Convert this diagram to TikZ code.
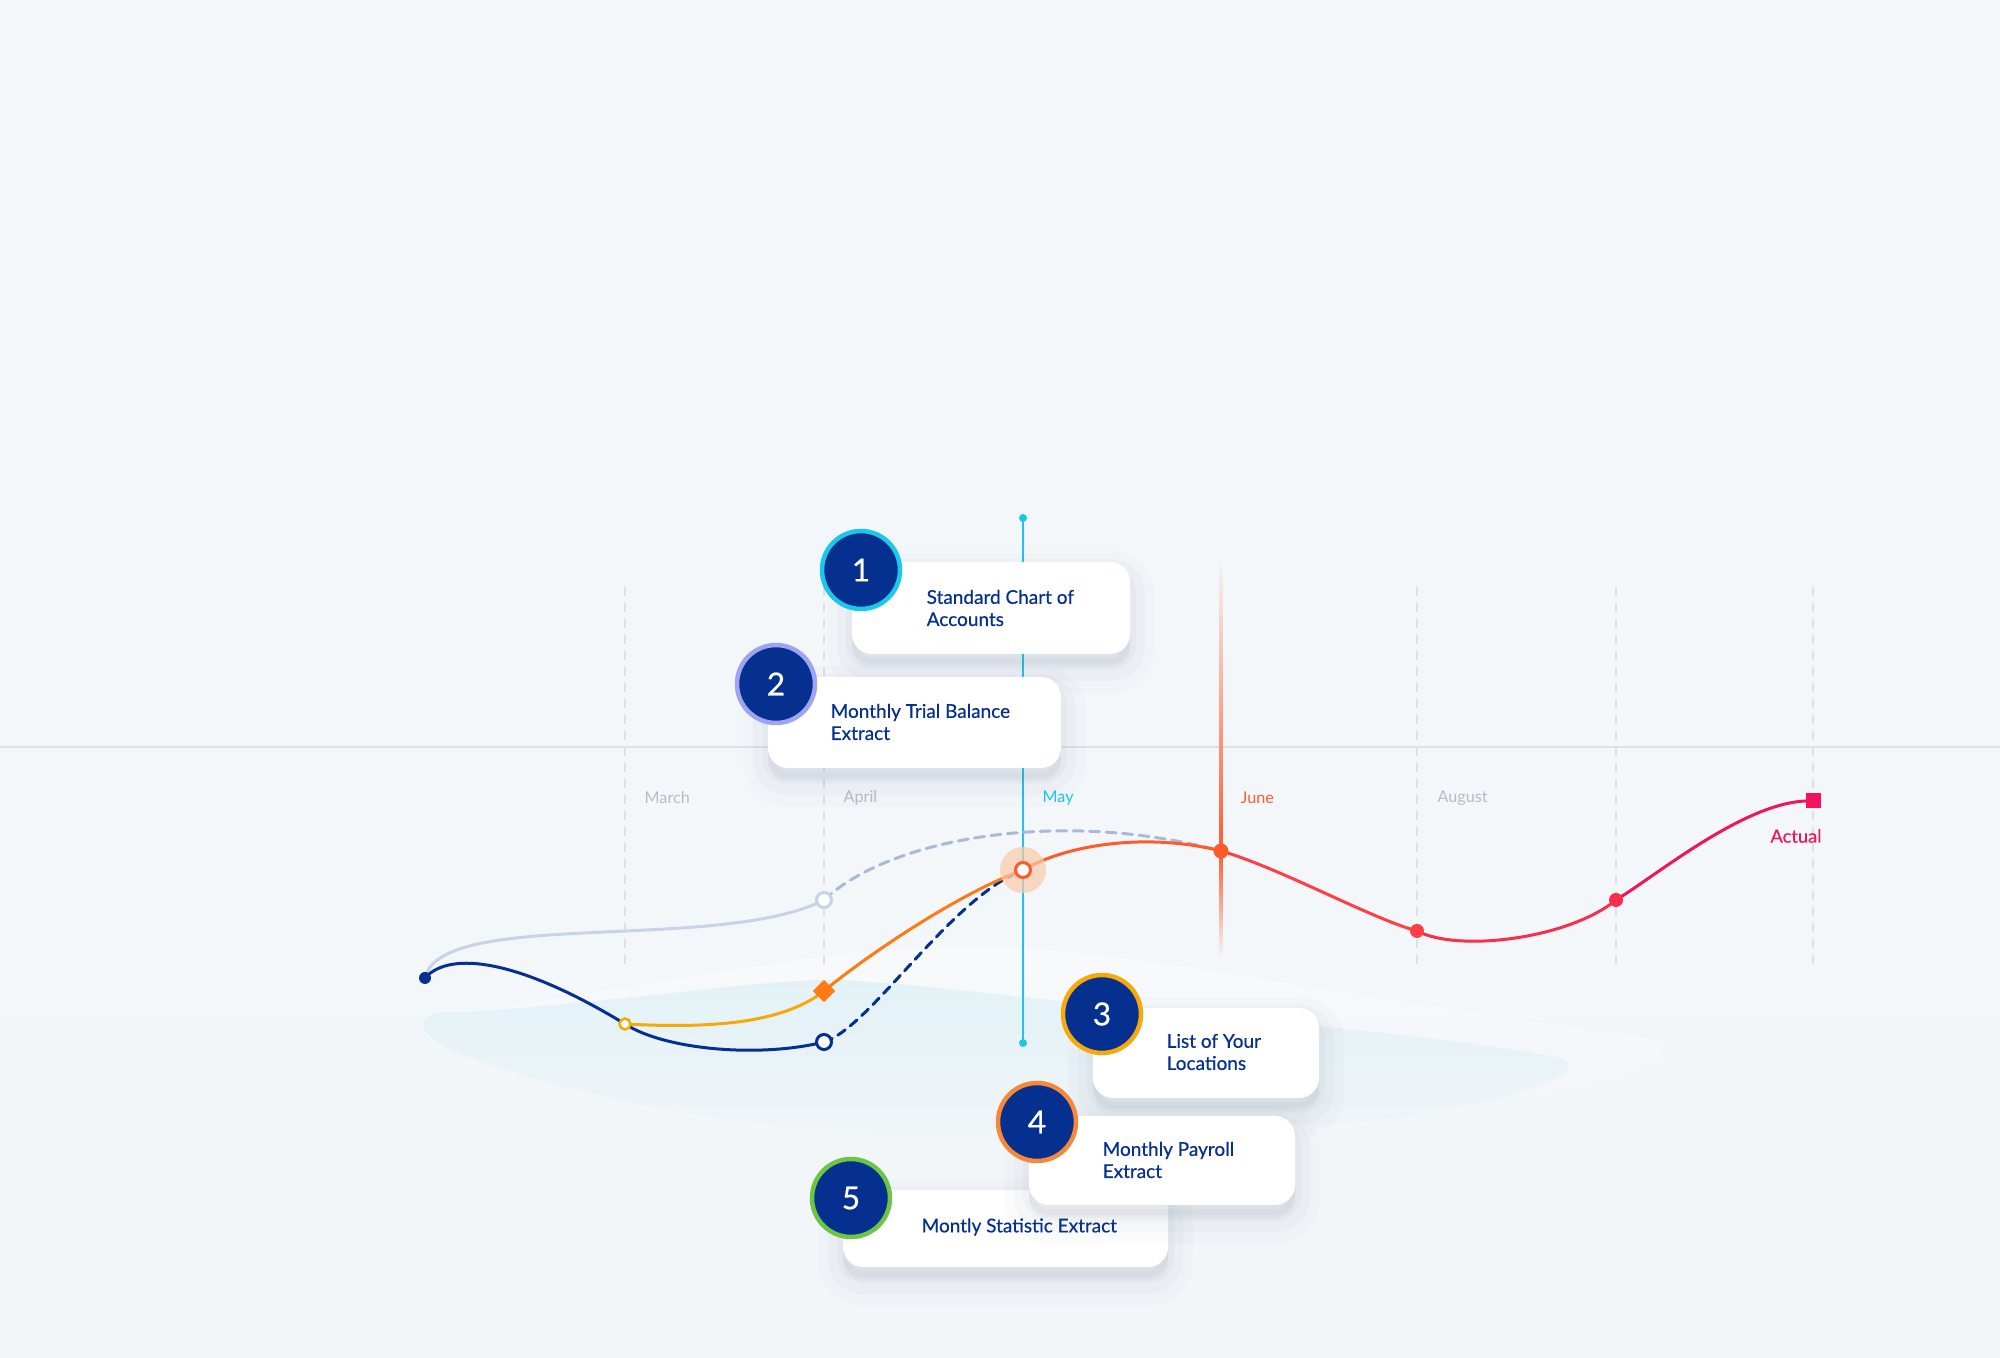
\documentclass[tikz,border=0pt]{standalone}
\usepackage{fontspec}
\setmainfont{Lato}
\usetikzlibrary{shapes.geometric}

\definecolor{bg}{HTML}{F3F6F9}
\definecolor{bgtop}{HTML}{F5F8FB}
\definecolor{navy}{HTML}{06308F}
\definecolor{gridgray}{HTML}{DDE1E7}
\definecolor{monthgray}{HTML}{B6BCC6}
\definecolor{maycyan}{HTML}{1CC6E8}
\definecolor{juneorange}{HTML}{FF5A2C}
\definecolor{lineorange}{HTML}{FF7A12}
\definecolor{linered}{HTML}{FF3F45}
\definecolor{actualred}{HTML}{F0155A}
\definecolor{lightline}{HTML}{C9D3E6}
\definecolor{dashblue}{HTML}{A9B9D8}
\definecolor{ringcyan}{HTML}{1CC8EA}
\definecolor{ringlav}{HTML}{9FA4F2}
\definecolor{ringamber}{HTML}{F6A90A}
\definecolor{ringorange}{HTML}{F7883A}
\definecolor{ringgreen}{HTML}{6CC644}
\definecolor{wavecyan}{HTML}{D6EEF4}
\definecolor{shadowcol}{HTML}{5A6E8C}

\begin{document}
\begin{tikzpicture}[x=0.1mm, y=0.1mm,
    gridline/.style={gridgray, line width=0.12mm, dash pattern=on 0.9mm off 0.7mm},
    month/.style={anchor=west, inner sep=0pt, font=\fontsize{4.6}{5}\selectfont, text=monthgray},
    curve/.style={line width=0.3mm, line cap=round},
    card/.style={rectangle, rounded corners=2mm, fill=white, inner sep=0pt,
        preaction={draw=shadowcol, fill=shadowcol, opacity=0.025, line width=5mm,
            transform canvas={yshift=-1.4mm}},
        preaction={draw=shadowcol, fill=shadowcol, opacity=0.03, line width=3mm,
            transform canvas={yshift=-1.2mm}},
        preaction={draw=shadowcol, fill=shadowcol, opacity=0.035, line width=1.2mm,
            transform canvas={yshift=-1mm}}},
    cardtext/.style={anchor=west, align=left, text=navy, inner sep=0pt,
        font=\fontsize{5.4}{6.3}\selectfont\addfontfeature{FakeBold=0.5}},
    badge/.style={circle, fill=navy, line width=0.45mm, minimum size=7.8mm,
        inner sep=0pt, text=white, font=\fontsize{9}{9}\selectfont\addfontfeature{FakeBold=0.6}},
    openmark/.style={circle, fill=white, inner sep=0pt, minimum size=1.5mm, line width=0.3mm},
    dotmark/.style={circle, inner sep=0pt, minimum size=1.4mm}]

    %BACKGROUND
    \useasboundingbox (0,0) rectangle (2000,1358);
    \shade[top color=bgtop, bottom color=bg] (0,0) rectangle (2000,1358);
    \shade[top color=white, bottom color=bg, opacity=0.35]
        (430,340) .. controls (700,380) and (850,415) .. (990,412)
        .. controls (1150,405) and (1350,360) .. (1650,320)
        .. controls (1700,300) and (1600,260) .. (1450,250)
        .. controls (1100,220) and (700,230) .. (470,300)
        .. controls (420,315) and (410,335) .. (430,340) -- cycle;
    \shade[top color=wavecyan, bottom color=bg, opacity=0.6]
        (440,345) .. controls (600,352) and (760,380) .. (840,378)
        .. controls (950,372) and (1100,350) .. (1250,338)
        .. controls (1400,325) and (1500,312) .. (1560,300)
        .. controls (1600,285) and (1500,250) .. (1350,235)
        .. controls (1000,200) and (700,220) .. (470,300)
        .. controls (420,318) and (410,340) .. (440,345) -- cycle;

    %GRID
    \foreach \gx in {625,824,1417,1616,1813}
        \draw[gridline] (\gx,771) -- (\gx,388);
    \draw[gridgray, line width=0.15mm] (0,611) -- (2000,611);

    \node[month] (MARCH) at (644,560) {March};
    \node[month] (APRIL) at (843,560) {April};
    \node[month, text=maycyan] (MAYLBL) at (1042,560) {May};
    \node[month, text=juneorange] (JUNELBL) at (1240,560) {June};
    \node[month] (AUGUST) at (1437,560) {August};

    %JUNE LINE
    \shade[top color=bg, bottom color=juneorange] (1219.5,507) rectangle (1222.5,800);
    \shade[top color=juneorange, bottom color=bg] (1219.5,401) rectangle (1222.5,507);

    %MAY LINE
    \coordinate (MAYTOP) at (1023,840);
    \coordinate (MAYBOT) at (1023,315);
    \draw[maycyan, line width=0.25mm] (MAYTOP) -- (MAYBOT);
    \node[dotmark, fill=maycyan, minimum size=0.8mm] (MAYTOPDOT) at (MAYTOP) {};
    \node[dotmark, fill=maycyan, minimum size=0.8mm] (MAYBOTDOT) at (MAYBOT) {};

    %POINTS
    \coordinate (S) at (425,380);
    \coordinate (MAR) at (625,334);
    \coordinate (APRLOW) at (824,316);
    \coordinate (APRHIGH) at (824,458);
    \coordinate (APRDIA) at (824,367);
    \coordinate (MAY) at (1023,488);
    \coordinate (JUNE) at (1221,507);
    \coordinate (AUG) at (1417,427);
    \coordinate (SEP) at (1616,458);
    \coordinate (END) at (1813,557);

    %CURVES
    \draw[curve, lightline] (S) .. controls (440,450) and (720,405) .. (APRHIGH);
    \draw[curve, dashblue, dash pattern=on 1mm off 0.65mm] (APRHIGH) .. controls (890,520) and (1060,550) .. (JUNE);
    \draw[curve, navy] (S) .. controls (450,408) and (520,398) .. (MAR);
    \draw[curve, navy] (MAR) .. controls (665,308) and (760,300) .. (APRLOW);
    \draw[curve, navy, dash pattern=on 0.9mm off 0.65mm] (APRLOW) .. controls (870,330) and (950,460) .. (MAY);
    \draw[curve, ringamber] (MAR) .. controls (700,330) and (780,332) .. (APRDIA);
    \draw[curve, lineorange] (APRDIA) .. controls (870,405) and (960,465) .. (MAY);
    \draw[curve, juneorange] (MAY) .. controls (1070,515) and (1150,525) .. (JUNE);
    \draw[curve, linered] (JUNE) .. controls (1280,490) and (1370,440) .. (AUG);
    \draw[curve, linered!60!actualred] (AUG) .. controls (1460,405) and (1570,420) .. (SEP);
    \draw[curve, actualred] (SEP) .. controls (1660,485) and (1750,560) .. (END);

    %MARKERS
    \fill[ringorange!45, opacity=0.7] (MAY) circle (2.3mm);
    \node[dotmark, fill=navy, minimum size=1.2mm] (SDOT) at (S) {};
    \node[openmark, draw=ringamber, minimum size=1.1mm, line width=0.25mm] (MARDOT) at (MAR) {};
    \node[openmark, draw=navy] (APRLOWDOT) at (APRLOW) {};
    \node[openmark, draw=lightline] (APRHIGHDOT) at (APRHIGH) {};
    \node[diamond, fill=lineorange, inner sep=0pt, minimum size=2.3mm] (APRDIADOT) at (APRDIA) {};
    \node[openmark, draw=juneorange] (MAYDOT) at (MAY) {};
    \node[dotmark, fill=juneorange, minimum size=1.5mm] (JUNEDOT) at (JUNE) {};
    \node[dotmark, fill=linered] (AUGDOT) at (AUG) {};
    \node[dotmark, fill=linered!60!actualred] (SEPDOT) at (SEP) {};
    \node[rectangle, fill=actualred, inner sep=0pt, minimum size=1.5mm] (ENDDOT) at (END) {};
    \node[inner sep=0pt, text=actualred, font=\fontsize{5.2}{6}\selectfont\addfontfeature{FakeBold=0.4}] (ACTUAL) at (1796,522) {Actual};

    %CARDS
    \node[card, minimum width=27.8mm, minimum height=9.2mm] (CARD1) at (991,750) {};
    \node[cardtext] (TEXT1) at (926,750) {Standard Chart of\\Accounts};
    \node[badge, draw=ringcyan] (BADGE1) at (861,788) {1};

    \node[card, minimum width=29.3mm, minimum height=9.1mm] (CARD2) at (914.5,635.5) {};
    \node[cardtext] (TEXT2) at (830,636) {Monthly Trial Balance\\Extract};
    \node[badge, draw=ringlav] (BADGE2) at (776,674) {2};

    \node[card, minimum width=22.6mm, minimum height=9mm] (CARD3) at (1206,305) {};
    \node[cardtext] (TEXT3) at (1166,306) {List of Your\\Locations};
    \node[badge, draw=ringamber] (BADGE3) at (1102,344) {3};

    \node[card, minimum width=32.5mm, minimum height=7.7mm] (CARD5) at (1005.5,129.5) {};
    \node[cardtext] (TEXT5) at (921,131) {Montly Statistic Extract};

    \node[card, minimum width=26.6mm, minimum height=8.9mm] (CARD4) at (1162,197.5) {};
    \node[cardtext] (TEXT4) at (1102,198) {Monthly Payroll\\Extract};
    \node[badge, draw=ringorange] (BADGE4) at (1037,236) {4};

    \node[badge, draw=ringgreen] (BADGE5) at (851,160) {5};
\end{tikzpicture}
\end{document}
